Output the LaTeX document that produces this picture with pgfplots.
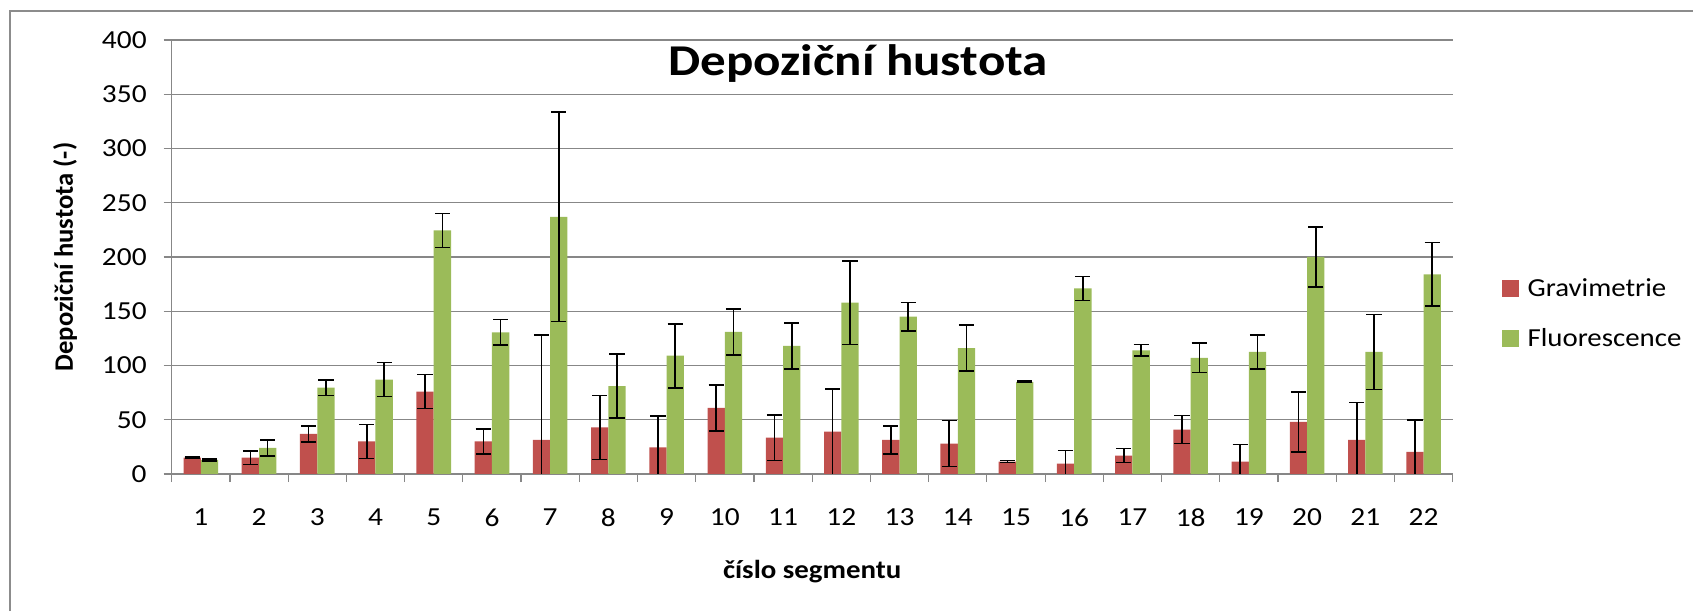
\documentclass[border=0pt]{standalone}
\usepackage{fontspec}
\setmainfont{Carlito}[FakeStretch=1.11]
\newfontfamily\tickfont{Carlito}[FakeStretch=1.13]
\newfontfamily\titlefont{Carlito}[FakeStretch=1.16]
\newfontfamily\plainfont{Carlito}
\usepackage{pgfplots}
\usepackage{pgfplotstable}
\pgfplotsset{compat=1.18}
\definecolor{grav}{HTML}{C0504D}
\definecolor{fluo}{HTML}{9BBB59}
\definecolor{gridgray}{HTML}{878787}
\definecolor{framegray}{HTML}{8C8C8C}

\pgfplotstableread{
x  y     e
1  15    0.8
2  15    6.3
3  37    7.3
4  30    15.6
5  76    15.6
6  30    11.5
7  31.5  96.5
8  43    29.5
9  24.5  29
10 61    21.2
11 33.5  21.1
12 39    39.5
13 31.5  12.8
14 28    21.2
15 11.5  0.8
16 9.5   12
17 17    6.5
18 41    13
19 11.5  15.6
20 48    27.5
21 31.5  34.3
22 20.5  29
}\grav

\pgfplotstableread{
x  y     e
1  13    0.8
2  24    7.2
3  79.5  7.3
4  87    15.6
5  224.5 15.6
6  130.5 11.8
7  237   96.5
8  81    29.5
9  109   29.5
10 131   21.2
11 118   21.2
12 158   38.5
13 145   13
14 116   21.2
15 85    0.8
16 171   11.2
17 114   5.5
18 107   13.5
19 112.5 15.5
20 200   27.4
21 112.5 34.5
22 184   29.3
}\fluo

\begin{document}
\begin{tikzpicture}
\path[use as bounding box] (0,0) rectangle (846.5pt,305.5pt);
\draw[framegray, line width=0.6pt] (5pt,0pt) -- (5pt,300pt) -- (846.5pt,300pt);
\begin{axis}[
  at={(85.85pt,68.5pt)}, anchor=south west,
  scale only axis, width=640.5pt, height=217pt,
  ymin=0, ymax=400, ytick={0,50,...,400},
  xmin=0.5, xmax=22.5, xtick={1,...,22},
  minor xtick={0.5,1.5,...,22.5},
  major x tick style={draw=none},
  tick align=outside,
  major tick length=4pt, minor tick length=4pt,
  tick style={gridgray, line width=0.6pt},
  ymajorgrids, grid style={gridgray, line width=0.6pt},
  axis x line*=bottom, axis y line*=left,
  axis line style={gridgray, line width=0.6pt},
  /pgf/number format/assume math mode=true,
  ticklabel style={font=\tickfont\fontsize{13}{15}\selectfont},
  yticklabel style={xshift=-5pt},
  xticklabel style={yshift=-10pt},
  ybar=0pt, bar width=8.65pt,
  title={Depoziční hustota},
  title style={font=\titlefont\fontsize{22}{26}\selectfont\bfseries, at={(axis description cs:0.5358,0.891)}, anchor=base},
  ylabel={Depoziční hustota (-)},
  ylabel style={font=\plainfont\fontsize{13.3}{15}\selectfont\bfseries, at={(axis description cs:-0.0833,0.5)}, anchor=center},
  xlabel={číslo segmentu},
  xlabel style={font=\fontsize{13}{15}\selectfont\bfseries, at={(axis description cs:0.5,-0.225)}, anchor=center},
  legend style={draw=none, fill=none, at={(axis description cs:1.038,0.369)}, anchor=west,
    font=\fontsize{13}{15}\selectfont, row sep=9.6pt, inner sep=0pt,
    nodes={inner sep=2.5pt}},
  legend cell align=left,
  legend image code/.code={\fill[#1] (0pt,-4.2pt) rectangle (8.4pt,4.2pt);},
  legend style={every node/.append style={xshift=0pt}},
  error bars/error bar style={line width=0.8pt, black},
  error bars/error mark options={rotate=90, mark size=3.8pt, line width=0.8pt, black},
]
\addplot[fill=grav, draw=none, error bars/.cd, y dir=both, y explicit]
  table[x=x, y=y, y error=e] {\grav};
\addlegendentry{\hspace{2pt}Gravimetrie}
\addplot[fill=fluo, draw=none, error bars/.cd, y dir=both, y explicit]
  table[x=x, y=y, y error=e] {\fluo};
\addlegendentry{\hspace{2pt}Fluorescence}
\end{axis}
\end{tikzpicture}
\end{document}
